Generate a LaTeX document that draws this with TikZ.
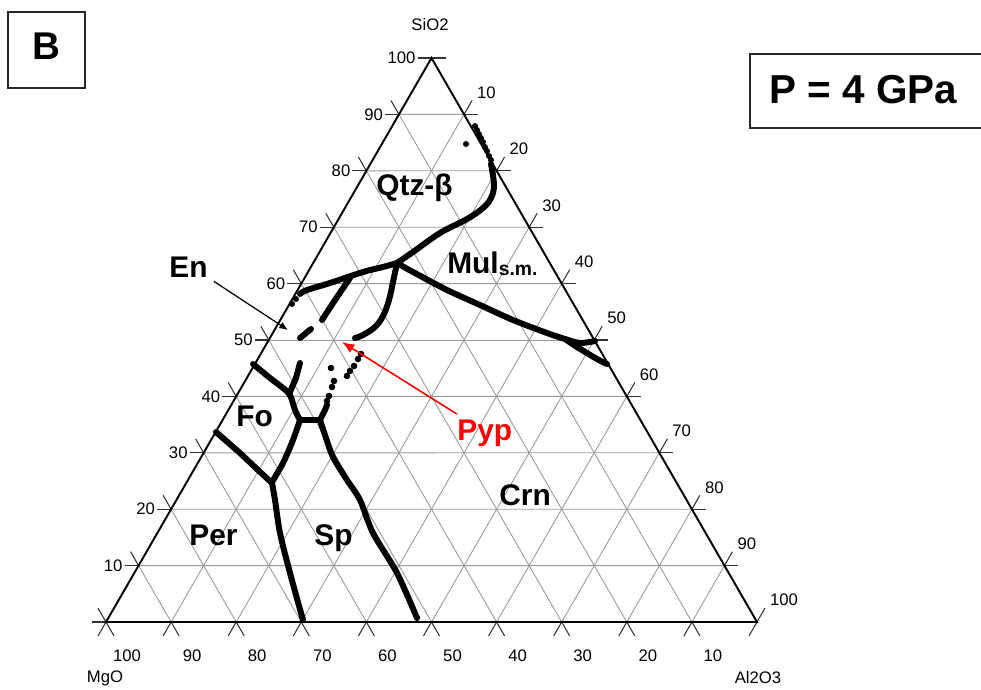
\documentclass[tikz,border=0pt]{standalone}
\usepackage{fontspec}
\setmainfont{Liberation Sans}
\usetikzlibrary{calc,arrows.meta}

\begin{document}
\begin{tikzpicture}[x=0.2mm,y=-0.2mm,
    griglia/.style={line width=0.5pt,black!40},
    bordo/.style={line width=1.1pt},
    tacca/.style={line width=0.6pt,black!80},
    confine/.style={line width=3.4pt,line cap=round,line join=round},
    asse/.style={font=\fontsize{9.5}{11}\selectfont,inner sep=1pt},
    campo/.style={font=\fontsize{17}{20}\selectfont\bfseries,
                  anchor=base west,inner sep=0pt},
    riquadro/.style={line width=0.9pt,black!85}]

  \useasboundingbox (0,0) rectangle (981,689);

  % ---- vertici e punti sui lati --------------------------------------------
  \coordinate (mgo) at (106,622);
  \coordinate (al)  at (757,622);
  \coordinate (si)  at (431.5,58);
  \foreach \k in {0,...,10} {
    \coordinate (s\k) at ($(mgo)!\k/10!(si)$);
    \coordinate (r\k) at ($(si)!\k/10!(al)$);
    \coordinate (b\k) at ($(al)!\k/10!(mgo)$);
  }

  % ---- griglia ---------------------------------------------------------------
  \foreach \k in {1,...,9} {
    \pgfmathtruncatemacro{\j}{10-\k}
    \draw[griglia] (s\k) -- (r\j);
    \draw[griglia] (b\j) -- (r\k);
    \draw[griglia] (b\k) -- (s\j);
  }

  % ---- tacche ----------------------------------------------------------------
  \foreach \k in {0,...,10} {
    \draw[tacca] (s\k) -- ++(-14,0);
    \draw[tacca] (b\k) -- ++(-8,13.9);
  }
  \foreach \k in {0,...,9} {
    \draw[tacca] (s\k) -- ++(-8,-13.9);
    \draw[tacca] (r\k) -- ++(14,0);
  }
  \foreach \k in {1,...,10} {
    \draw[tacca] (r\k) -- ++(8,-13.9);
    \draw[tacca] (b\k) -- ++(8,13.9);
  }

  \draw[bordo] (mgo) -- (al) -- (si) -- cycle;

  % ---- numeri sugli assi -----------------------------------------------------
  \foreach \k in {1,...,10} {
    \pgfmathtruncatemacro{\v}{10*\k}
    \node[asse,anchor=east]       (ls\k) at ($(s\k)+(-14,0)$)    {\v};
    \node[asse,anchor=south west] (lr\k) at ($(r\k)+(11,-13.9)$) {\v};
    \node[asse]                   (lb\k) at ($(b\k)+(21,34)$)    {\v};
  }
  \node[asse] (tsi) at (430,25)  {SiO2};
  \node[asse] (tmg) at (105,678) {MgO};
  \node[asse] (tal) at (758,678) {Al2O3};

  % ---- confini tra i campi ---------------------------------------------------
  \foreach \p in {(475,126),(477,130),(479,134),(481,138),(483,142),(485,147),
                  (487,151),(489,156),(491,160),(466,144),(296,299),(292,304)}
    \fill \p circle (3);
  \draw[confine] plot[smooth,tension=0.6] coordinates
        {(491,164) (494,185) (491,198) (483,208) (467,219) (440,233)
         (413,252) (397,263)};
  \draw[confine] plot[smooth,tension=0.6] coordinates
        {(397,263) (383,267) (363,272) (330,283) (307,290) (300,294)};
  \draw[confine] plot[smooth,tension=0.5] coordinates
        {(397,263) (413,272) (447,290) (480,305) (513,320) (547,333)
         (565,339) (580,343) (595,341)};
  \draw[confine] plot[smooth,tension=0.5] coordinates
        {(565,339) (577,347) (597,359) (607,364)};
  \draw[confine] plot[smooth,tension=0.6] coordinates
        {(397,263) (393,282) (389,300) (383,316) (375,327) (363,335) (355,338)};
  \draw[confine] (350,278) -- (335,300) -- (322,320);
  \draw[confine] (311,329) -- (300,338);

  % campo del piropo, punti isolati
  \foreach \p in {(361,354),(358,359),(354,366),(350,371),(347,376),
                  (331,368),(334,381),(332,387),(329,396),(327,401)}
    \fill \p circle (3.3);

  \draw[confine] plot[smooth,tension=0.5] coordinates
        {(253,364) (270,378) (283,388) (290,395) (295,410) (300,420)};
  \draw[confine] (300,363) -- (296,378) -- (290,392);
  \draw[confine] (300,420) -- (320,420) -- (325,410) -- (327,405);
  \draw[confine] plot[smooth,tension=0.5] coordinates
        {(320,420) (325,435) (333,457) (347,480) (360,500) (373,533)
         (397,573) (417,618)};
  \draw[confine] plot[smooth,tension=0.5] coordinates
        {(300,420) (293,440) (283,463) (272,482)};
  \draw[confine] (216,432) -- (240,453) -- (258,470) -- (272,483);
  \draw[confine] plot[smooth,tension=0.5] coordinates
        {(272,483) (275,500) (280,533) (290,573) (303,620)};

  % ---- nomi dei campi --------------------------------------------------------
  \node[campo] (qtz) at (376,195) {Qtz-β};
  \node[campo] (mul) at (447,273)
        {Mul\raisebox{-1.7pt}{\fontsize{11}{12}\selectfont s.m.}};
  \node[campo] (en)  at (169,277) {En};
  \node[campo] (fo)  at (236,426) {Fo};
  \node[campo] (per) at (189,545) {Per};
  \node[campo] (sp)  at (314,545) {Sp};
  \node[campo] (crn) at (499,505) {Crn};
  \node[campo,red] (pyp) at (457,440) {Pyp};

  \coordinate (puntaen)  at (288,330);
  \coordinate (puntapyp) at (342,342);
  \draw[line width=0.7pt,-{Latex[length=5pt,width=4pt]}]
        ([shift={(6,4)}]en.south east) -- (puntaen);
  \draw[red,line width=0.9pt,-{Latex[length=7pt,width=5.5pt]}]
        ([shift={(0,-5)}]pyp.north west) -- (puntapyp);

  % ---- riquadri --------------------------------------------------------------
  \draw[riquadro] (8,12) rectangle (85,88);
  \node[font=\fontsize{22}{26}\selectfont\bfseries] (lettera) at (46,46) {B};
  \draw[riquadro] (750,54) rectangle (990,128);
  \node[font=\fontsize{23}{27}\selectfont\bfseries,anchor=base west,
        inner sep=0pt] (press) at (769,103) {P = 4 GPa};

\end{tikzpicture}
\end{document}
